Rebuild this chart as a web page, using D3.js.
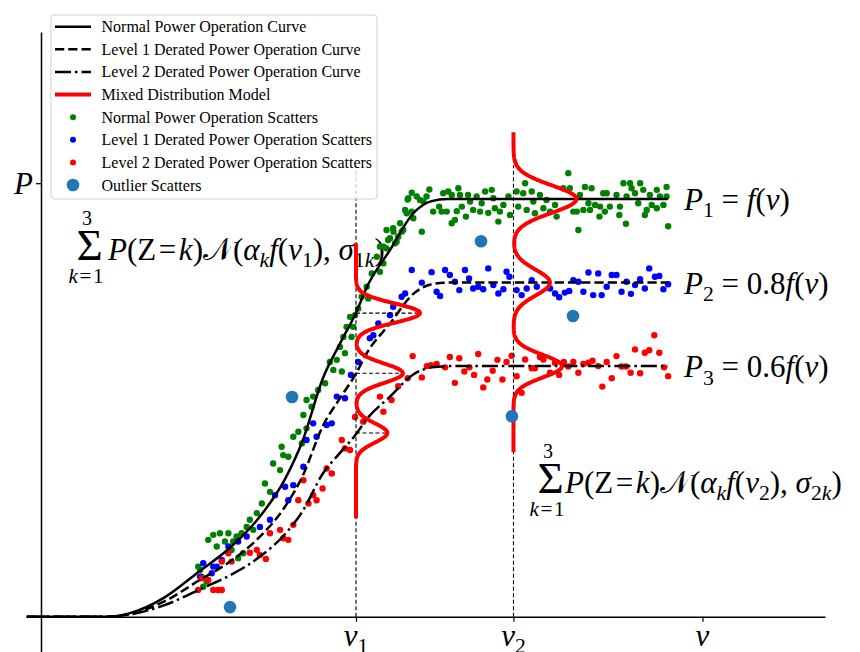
<!DOCTYPE html>
<html>
<head>
<meta charset="utf-8">
<script src="https://cdn.jsdelivr.net/npm/d3@7"></script>
<style>
  body { margin: 0; background: #fff; }
  svg text { font-family: "Liberation Serif", "Times New Roman", Tinos, "DejaVu Serif", serif; }
</style>
</head>
<body>
<script>
var svgWidth = 860;
var svgHeight = 652;

// ---- data (v = wind speed units, p = power as fraction of rated) ----
var curveV  = [-0.45, 2.1, 2.8, 3.9, 5.0, 6.0, 6.9, 7.75, 8.3, 8.95, 9.5, 10.0, 10.35, 11.08, 11.82, 12.4, 12.9, 19.9];
var normalP = [0, 0, 0.008, 0.045, 0.107, 0.165, 0.235, 0.33, 0.42, 0.571, 0.655, 0.728, 0.79, 0.878, 0.966, 0.995, 1.0, 1.0];
var level1P = [0, 0, 0.006, 0.036, 0.086, 0.132, 0.188, 0.264, 0.336, 0.457, 0.524, 0.582, 0.632, 0.702, 0.773, 0.796, 0.8, 0.8];
var level2P = [0, 0, 0.005, 0.027, 0.064, 0.099, 0.141, 0.198, 0.252, 0.343, 0.393, 0.437, 0.474, 0.527, 0.580, 0.597, 0.6, 0.6];

var v1 = 10, v2 = 15, vRef = 21;
var xTickVals = [v1, v2, vRef];
var xTickSubs = ["1", "2", ""];
var yTickVals = [1.038];

// mixture model at v1 and v2: component means, weights, sigmas, plotted p-range
var mixV1Means = [0.727, 0.583, 0.44];
var mixV1Weights = [0.45, 0.33, 0.22];
var mixV1Sigmas = [0.023, 0.023, 0.023];
var mixV1Range = [0.236, 0.895];
var mixV2Means = [1.0, 0.8, 0.6];
var mixV2Weights = [0.46, 0.25, 0.29];
var mixV2Sigmas = [0.033, 0.031, 0.027];
var mixV2Range = [0.394, 1.16];
var guideTopP = 1.081;

var greenPts = [
  [11.77,1.015],[11.64,0.999],[11.93,1.006],[12.03,0.998],[12.14,0.994],[12.33,1.023],[12.24,1.006],[12.45,0.970],
  [12.64,0.982],[12.72,0.970],[12.77,1.014],[12.93,1.018],[13.04,1.010],[12.88,0.970],[13.14,0.950],[13.04,0.942],
  [13.25,1.026],[13.30,1.010],[13.36,0.982],[13.20,0.971],[13.49,0.958],[13.56,1.010],[13.62,0.994],[13.72,0.974],
  [13.83,1.006],[13.94,0.970],[13.99,0.990],[14.10,1.018],[14.20,0.967],[14.31,1.022],[14.36,1.002],[14.41,0.978],
  [14.52,0.946],[14.57,0.970],[14.68,0.986],[14.84,1.006],[14.89,0.962],[15.10,1.018],[15.15,0.982],[15.37,1.038],
  [15.42,0.974],[10.97,0.926],[11.18,0.930],[11.08,0.906],[11.34,0.910],[11.45,0.922],[11.82,0.954],[11.61,0.966],
  [12.09,0.922],[10.87,0.886],[11.24,0.894],
  [16.74,1.062],[15.31,1.014],[15.58,1.018],[15.63,0.994],[15.84,1.010],[16.05,0.998],[15.68,0.966],[15.95,0.978],
  [16.16,0.970],[16.32,0.986],[16.37,0.958],[16.58,1.026],[16.79,1.026],[16.90,0.970],[17.01,0.970],[17.06,0.926],
  [17.11,1.010],[17.27,1.029],[17.22,0.974],[17.38,0.990],[17.48,1.026],[17.43,0.974],[17.59,0.986],[17.75,0.982],
  [17.73,0.958],[17.85,1.014],[17.96,1.014],[17.90,0.970],[18.06,0.982],[18.27,1.010],[18.38,0.982],[18.36,0.962],
  [18.49,1.038],[18.59,1.006],[18.57,0.941],[18.70,1.038],[18.75,1.026],[18.86,1.014],[18.96,0.990],[19.02,1.038],
  [19.12,1.022],[19.17,0.962],[19.23,0.974],[19.33,1.010],[19.39,0.986],[19.55,1.022],[19.55,0.978],[19.65,1.006],
  [19.76,0.986],[19.86,1.029],[19.91,0.935],[19.86,1.006],
  [11.66,1.002],[11.56,0.974],[11.77,0.970],[11.40,0.942],[11.19,0.922],[11.50,0.926],[11.02,0.902],[11.29,0.898],
  [10.76,0.886],[10.97,0.882],[10.66,0.862],[10.87,0.846],[10.76,0.826],[10.50,0.822],[10.34,0.790],[10.39,0.762],
  [10.18,0.766],[10.07,0.738],[9.97,0.722],[9.81,0.718],[9.70,0.694],[9.86,0.670],[9.60,0.670],[9.49,0.646],
  [9.65,0.631],[9.39,0.615],[9.28,0.591],[9.55,0.587],[9.17,0.610],
  [9.91,0.694],[9.02,0.559],[8.80,0.543],[8.64,0.527],[8.43,0.519],[8.59,0.503],[8.33,0.483],[8.43,0.451],
  [8.17,0.443],[8.01,0.431],[8.28,0.415],[7.64,0.407],[7.69,0.387],[7.85,0.383],[7.37,0.367],[7.59,0.351],
  [7.11,0.319],[7.27,0.299],[7.01,0.271],[6.85,0.248],[6.63,0.232],[6.53,0.215],[6.74,0.208],[6.37,0.200],
  [6.21,0.192],[6.10,0.180],[5.95,0.200],[5.68,0.200],[5.47,0.196],[5.58,0.168],[5.84,0.180],[6.26,0.140],
  [6.42,0.152],[6.05,0.160],[5.31,0.184],[5.05,0.112],[5.10,0.096],[5.26,0.084],[5.15,0.072],[4.99,0.120]
];

var bluePts = [
  [9.84,0.579],[9.65,0.523],[9.39,0.527],[9.07,0.459],[9.23,0.463],[8.64,0.463],[8.43,0.423],[8.75,0.431],
  [8.33,0.359],[8.01,0.315],[7.75,0.311],[7.43,0.291],[7.85,0.279],[7.27,0.232],[6.95,0.215],[6.53,0.192],
  [6.26,0.180],[5.95,0.168],[5.74,0.136],[5.58,0.120],[5.47,0.120],[5.15,0.128],[5.42,0.104],[5.05,0.096],
  [11.77,0.830],[11.56,0.774],[11.45,0.766],[11.18,0.742],[10.71,0.702],[10.55,0.674],[10.07,0.610],[11.08,0.722],
  [10.44,0.667],
  [12.09,0.800],[12.40,0.825],[12.56,0.778],[12.67,0.768],[12.83,0.830],[12.98,0.818],[13.14,0.802],[13.28,0.782],
  [13.46,0.830],[13.59,0.810],[13.72,0.786],[13.88,0.790],[14.04,0.784],[14.20,0.834],[14.36,0.794],[14.52,0.774],
  [14.68,0.784],[14.78,0.826],[14.87,0.814],[15.10,0.782],[15.26,0.770],[15.42,0.786],[15.58,0.806],[15.74,0.790],
  [16.16,0.786],[16.32,0.774],[16.45,0.765],[16.63,0.776],[16.77,0.780],[16.90,0.806],[17.06,0.802],[17.22,0.778],
  [17.38,0.824],[17.53,0.770],[17.69,0.822],[17.80,0.770],[17.96,0.790],[18.12,0.818],[18.27,0.818],[18.43,0.778],
  [18.59,0.802],[18.73,0.773],[18.86,0.794],[19.02,0.808],[19.17,0.786],[19.31,0.834],[19.49,0.814],[19.63,0.816],
  [19.76,0.784],[19.91,0.796]
];

var redPts = [
  [11.80,0.624],[12.09,0.573],[12.25,0.600],[12.38,0.602],[12.56,0.605],[12.83,0.597],[12.98,0.622],[13.14,0.560],
  [13.28,0.619],[13.44,0.587],[13.60,0.597],[13.75,0.579],[13.88,0.629],[14.04,0.549],[14.17,0.568],[14.34,0.589],
  [14.49,0.615],[14.65,0.568],[14.78,0.610],[14.94,0.625],[15.10,0.576],[15.26,0.536],[15.37,0.616],[15.58,0.595],
  [15.68,0.595],[15.84,0.622],[15.95,0.616],[16.16,0.584],[16.32,0.608],[16.45,0.579],[16.60,0.610],[16.74,0.599],
  [16.90,0.610],[17.06,0.584],[17.22,0.605],[17.38,0.608],[17.51,0.613],[17.69,0.600],[17.82,0.551],[17.96,0.610],
  [18.12,0.571],[18.27,0.624],[18.43,0.599],[18.57,0.599],[18.72,0.584],[18.86,0.640],[19.02,0.583],[19.17,0.632],
  [19.31,0.638],[19.47,0.674],[19.63,0.632],[19.78,0.597],[19.91,0.576],
  [11.64,0.571],[11.34,0.552],[11.13,0.519],[10.76,0.527],[10.87,0.491],[10.23,0.467],[9.97,0.478],
  [9.55,0.423],[9.65,0.403],[9.81,0.399],[9.07,0.355],[9.23,0.343],[8.94,0.307],[8.64,0.291],[8.75,0.279],
  [8.49,0.271],[8.17,0.279],[8.33,0.327],[8.01,0.220],[7.59,0.208],[7.27,0.200],[7.69,0.188],[7.85,0.184],
  [6.85,0.160],[6.63,0.153],[6.95,0.148],[7.14,0.138],[5.95,0.152],[5.74,0.132],[6.05,0.132],
  [5.10,0.092],[5.31,0.088],[4.99,0.064],[5.47,0.064],[5.62,0.064],[5.74,0.064]
];

var outlierPts = [[13.97,0.899],[16.89,0.720],[7.97,0.526],[14.95,0.480],[6.0,0.023]];

var legendLabels = [
  "Normal Power Operation Curve",
  "Level 1 Derated Power Operation Curve",
  "Level 2 Derated Power Operation Curve",
  "Mixed Distribution Model",
  "Normal Power Operation Scatters",
  "Level 1 Derated Power Operation Scatters",
  "Level 2 Derated Power Operation Scatters",
  "Outlier Scatters"
];

var serif = "'Liberation Serif', 'Times New Roman', Tinos, 'DejaVu Serif', serif";

// ---- scales ----
var x = d3.scaleLinear().domain([-0.476, 24.89]).range([26, 825]);
var y = d3.scaleLinear().domain([-0.0845, 1.40]).range([652, 32]);

var svg = d3.select("body").append("svg")
  .attr("width", svgWidth)
  .attr("height", svgHeight)
  .style("font-family", serif);

// math-ish text: parts = [text, kind], kind: r, i, sr (sub roman), si (sub italic)
function mathText(sel, px, py, size, parts, anchor) {
  var t = sel.append("text")
    .attr("x", px).attr("y", py)
    .attr("font-size", size)
    .attr("font-family", serif)
    .attr("text-anchor", anchor || "start")
    .attr("fill", "#000");
  var shift = 0;
  parts.forEach(function(p) {
    var sub = p[1].charAt(0) === "s";
    var target = sub ? size * 0.24 : 0;
    var ts = t.append("tspan").text(p[0])
      .attr("font-style", p[1].indexOf("i") >= 0 ? "italic" : "normal")
      .attr("font-size", sub ? size * 0.7 : size);
    if (target !== shift) { ts.attr("dy", target - shift); shift = target; }
  });
  return t;
}

function sumFormula(px, py, textX, vSub, sSub) {
  var g = svg.append("g");
  g.append("text").attr("x", px + 12.5).attr("y", py).attr("font-size", 45)
    .attr("font-family", serif).attr("text-anchor", "middle").text("\u03A3");
  mathText(g, px + 10, py - 35, 20, [["3", "r"]], "middle");
  mathText(g, px + 9, py + 23, 21, [["k", "i"], ["\u200A=\u200A1", "r"]], "middle");
  mathText(g, textX, py, 31, [
    ["P", "i"], ["(Z\u200A=\u200A", "r"], ["k", "i"], [")", "r"], ["\uD835\uDCA9", "r"], ["(", "r"],
    ["\u03B1", "i"], ["k", "si"], ["f", "i"], ["(", "r"], ["v", "i"], [vSub, "sr"], ["), ", "r"],
    ["\u03C3", "i"], [sSub, "sr"], ["k", "si"], [")", "r"]
  ]);
}

// formulas (under the data)
sumFormula(77, 260, 108, "1", "1");
sumFormula(538, 493, 565, "2", "2");

// ---- scatters ----
function scatter(data, color, r) {
  svg.append("g").selectAll("circle")
    .data(data).enter().append("circle")
    .attr("cx", function(d) { return x(d[0]); })
    .attr("cy", function(d) { return y(d[1]); })
    .attr("r", r)
    .attr("fill", color);
}
scatter(greenPts, "#008000", 3.2);
scatter(bluePts, "#0000ff", 3.2);
scatter(redPts, "#ff0000", 3.2);

// ---- axes ----
svg.append("g")
  .attr("transform", "translate(0," + y(0) + ")")
  .call(d3.axisBottom(x).tickValues(xTickVals).tickSize(5).tickSizeOuter(0).tickFormat(""));
svg.append("g")
  .attr("transform", "translate(" + x(0) + ",0)")
  .call(d3.axisLeft(y).tickValues(yTickVals).tickSize(5).tickSizeOuter(0).tickFormat(""));
svg.selectAll(".domain").attr("stroke", "#000").attr("stroke-width", 1.5);
svg.selectAll(".tick line").attr("stroke", "#000").attr("stroke-width", 1.2);

xTickVals.forEach(function(v, i) {
  mathText(svg, x(v), 646, 31, [["v", "i"], [xTickSubs[i], "sr"]], "middle");
});
mathText(svg, x(0) - 8, y(yTickVals[0]) + 11, 31, [["P", "i"]], "end");

// ---- guide lines ----
var guides = svg.append("g").attr("stroke", "#000").attr("stroke-width", 1.1)
  .attr("stroke-dasharray", "4,2.5").attr("fill", "none");
[v1, v2].forEach(function(v) {
  guides.append("line").attr("x1", x(v)).attr("x2", x(v)).attr("y1", y(0)).attr("y2", y(guideTopP));
});

// ---- curves ----
var line = d3.line()
  .x(function(d) { return x(d[0]); })
  .y(function(d) { return y(d[1]); })
  .curve(d3.curveMonotoneX);
var curves = [
  { p: normalP, dash: null },
  { p: level1P, dash: "9.25,4" },
  { p: level2P, dash: "16,4,2.5,4" }
];
curves.forEach(function(c) {
  svg.append("path")
    .datum(curveV.map(function(v, i) { return [v, c.p[i]]; }))
    .attr("d", line)
    .attr("fill", "none")
    .attr("stroke", "#000")
    .attr("stroke-width", 2.5)
    .attr("stroke-dasharray", c.dash);
});

// ---- mixture densities ----
function mixture(means, weights, sigmas) {
  return function(p) {
    var s = 0;
    for (var k = 0; k < means.length; k++) {
      var z = (p - means[k]) / sigmas[k];
      s += weights[k] / (sigmas[k] * Math.sqrt(2 * Math.PI)) * Math.exp(-0.5 * z * z);
    }
    return s;
  };
}
function drawMixture(vBase, means, weights, sigmas, range, peakWidth, hGuides) {
  var dens = mixture(means, weights, sigmas);
  var ps = d3.range(range[0], range[1] + 1e-9, 0.002);
  var maxD = d3.max(ps, dens);
  var off = function(p) { return peakWidth * dens(p) / maxD; };
  if (hGuides) {
    means.forEach(function(m) {
      guides.append("line").attr("x1", x(vBase)).attr("x2", x(vBase + off(m)))
        .attr("y1", y(m)).attr("y2", y(m));
    });
  }
  svg.append("path")
    .datum(ps.map(function(p) { return [vBase + off(p), p]; }))
    .attr("d", d3.line().x(function(d) { return x(d[0]); }).y(function(d) { return y(d[1]); }))
    .attr("fill", "none")
    .attr("stroke", "#ff0000")
    .attr("stroke-width", 4);
}
drawMixture(v1, mixV1Means, mixV1Weights, mixV1Sigmas, mixV1Range, 2.03, true);
drawMixture(v2, mixV2Means, mixV2Weights, mixV2Sigmas, mixV2Range, 2.0, false);

scatter(outlierPts, "#1f77b4", 6.3);

// ---- curve labels ----
var labelX = 684;
mathText(svg, labelX, y(1.0) + 11, 31, [["P", "i"], ["1", "sr"], [" = ", "r"], ["f", "i"], ["(", "r"], ["v", "i"], [")", "r"]]);
mathText(svg, labelX, y(0.8) + 11, 31, [["P", "i"], ["2", "sr"], [" = 0.8", "r"], ["f", "i"], ["(", "r"], ["v", "i"], [")", "r"]]);
mathText(svg, labelX, y(0.6) + 11, 31, [["P", "i"], ["3", "sr"], [" = 0.6", "r"], ["f", "i"], ["(", "r"], ["v", "i"], [")", "r"]]);

// ---- legend ----
var legend = svg.append("g");
legend.append("rect")
  .attr("x", 51).attr("y", 15).attr("width", 326).attr("height", 184)
  .attr("rx", 3).attr("fill", "#fff").attr("fill-opacity", 0.8)
  .attr("stroke", "#d0d0d0").attr("stroke-width", 1);
var legendStyles = [
  { type: "line", color: "#000", w: 2.5, dash: null },
  { type: "line", color: "#000", w: 2.5, dash: "9.25,4" },
  { type: "line", color: "#000", w: 2.5, dash: "16,4,2.5,4" },
  { type: "line", color: "#ff0000", w: 4, dash: null },
  { type: "dot", color: "#008000", r: 3 },
  { type: "dot", color: "#0000ff", r: 3 },
  { type: "dot", color: "#ff0000", r: 3 },
  { type: "dot", color: "#1f77b4", r: 6.3 }
];
legendLabels.forEach(function(lab, i) {
  var cy = 26.7 + i * 22.62;
  var st = legendStyles[i];
  if (st.type === "line") {
    legend.append("line").attr("x1", 55).attr("x2", 91).attr("y1", cy).attr("y2", cy)
      .attr("stroke", st.color).attr("stroke-width", st.w).attr("stroke-dasharray", st.dash);
  } else {
    legend.append("circle").attr("cx", 73).attr("cy", cy).attr("r", st.r).attr("fill", st.color);
  }
  legend.append("text").attr("x", 101.5).attr("y", cy + 5.5)
    .attr("font-size", 16).attr("font-family", serif).attr("fill", "#000").text(lab);
});
</script>
</body>
</html>
